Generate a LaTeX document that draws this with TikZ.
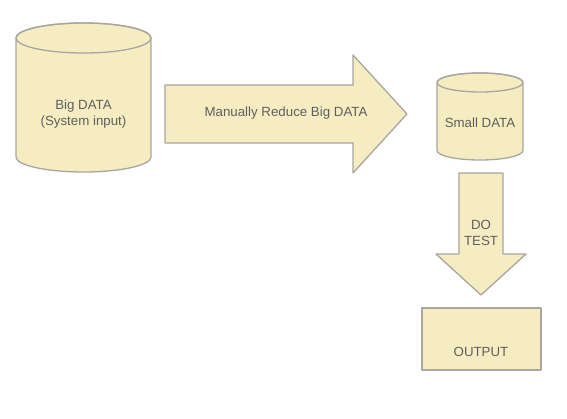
\documentclass[tikz,border=0pt]{standalone}
\usepackage{fontspec}
\setmainfont{Liberation Sans}
\definecolor{shapefill}{RGB}{246,236,194}
\definecolor{shapeline}{RGB}{168,166,158}
\definecolor{labeltext}{RGB}{95,95,95}
\tikzset{
  shapebox/.style={fill=shapefill, draw=shapeline, line width=1.3pt, line join=round},
  lbl/.style={text=labeltext, font=\fontsize{13.3}{16}\selectfont, align=center, inner sep=0pt}
}
\begin{document}
\begin{tikzpicture}[x=1pt,y=-1pt]
\useasboundingbox (0,0) rectangle (567,418);
% Big cylinder
\path[shapebox] (16,38) -- (16,157) arc[start angle=180, end angle=0, x radius=67.5, y radius=15]
  -- (151,38) arc[start angle=0, end angle=-180, x radius=67.5, y radius=15] -- cycle;
\draw[shapebox, fill=none] (83.5,38) ellipse [x radius=67.5, y radius=15];
\node[lbl] (big) at (83.5,114) {Big DATA\\(System input)};
% Big arrow
\path[shapebox] (165,85) -- (353,85) -- (353,55) -- (407,114) -- (353,173) -- (353,143) -- (165,143) -- cycle;
\node[lbl] (reduce) at (286,113) {Manually Reduce Big DATA};
% Small cylinder
\path[shapebox] (437,82.5) -- (437,150.5) arc[start angle=180, end angle=0, x radius=43, y radius=9.5]
  -- (523,82.5) arc[start angle=0, end angle=-180, x radius=43, y radius=9.5] -- cycle;
\draw[shapebox, fill=none] (480,82.5) ellipse [x radius=43, y radius=9.5];
\node[lbl] (small) at (480,123) {Small DATA};
% Down arrow
\path[shapebox] (459,173) -- (503,173) -- (503,254) -- (526,254) -- (481,295) -- (436,254) -- (459,254) -- cycle;
\node[lbl] (test) at (481,232.5) {DO\\TEST};
% Output box
\path[shapebox] (422,308) rectangle (541,370);
\node[lbl] (output) at (481,352) {OUTPUT};
\end{tikzpicture}
\end{document}
